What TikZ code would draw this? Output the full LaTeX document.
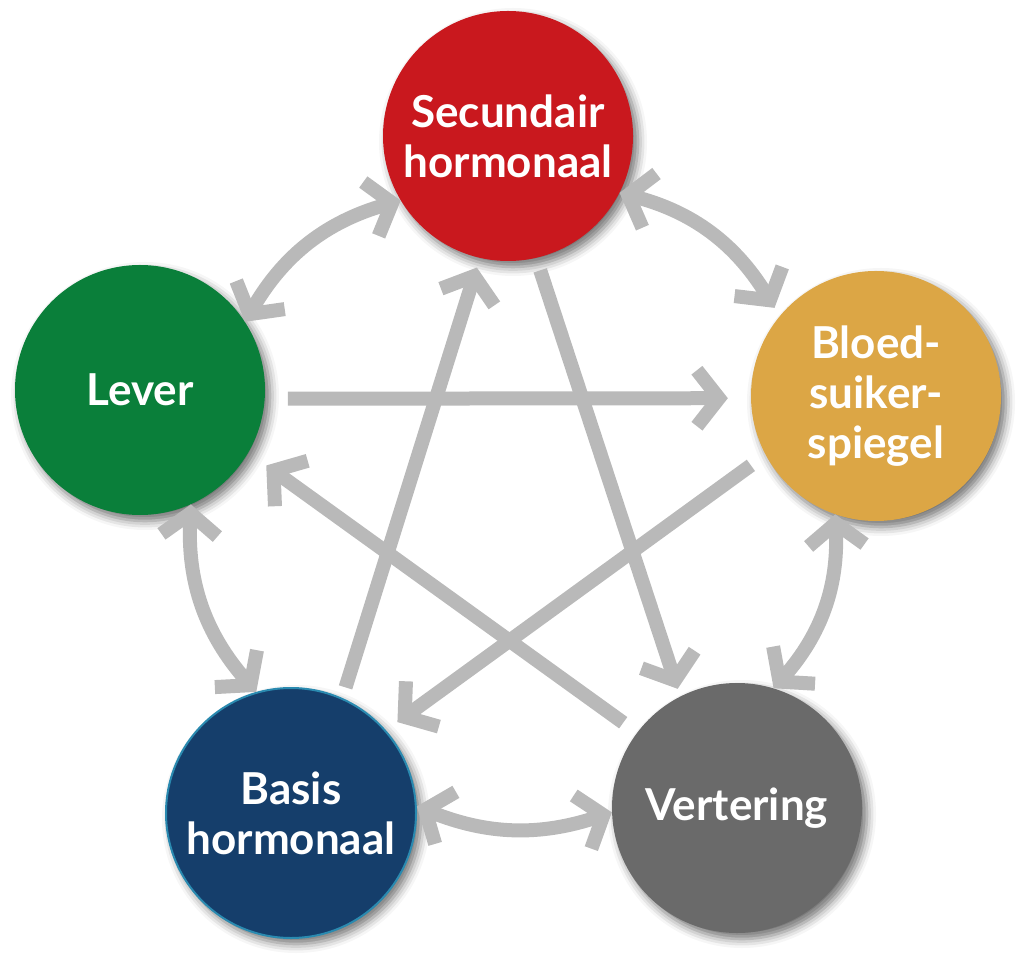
\documentclass[tikz,border=0pt]{standalone}
\usepackage{fontspec}
\setmainfont{Lato}
\usetikzlibrary{arrows.meta,shadows.blur}
\definecolor{rood}{HTML}{C9181E}
\definecolor{groen}{HTML}{0A7F3A}
\definecolor{goud}{HTML}{DCA645}
\definecolor{blauw}{HTML}{153E6B}
\definecolor{blauwrand}{HTML}{2A8AB0}
\definecolor{donkergrijs}{HTML}{6A6A6A}
\definecolor{pijlgrijs}{HTML}{B9B9B9}
\tikzset{
  bol/.style={circle,minimum size=250pt,inner sep=0pt,text=white,align=center,
    font=\bfseries\fontsize{44}{50}\selectfont,
    blur shadow={shadow xshift=5pt,shadow yshift=-6pt,shadow blur radius=9pt,shadow opacity=55}},
  punt/.style={Straight Barb[length=22pt,width=56pt]},
  pijl/.style={draw=pijlgrijs,line width=14pt,-{Straight Barb[length=22pt,width=56pt]}},
  dubbel/.style={draw=pijlgrijs,line width=14pt,{Straight Barb[length=22pt,width=56pt]}-{Straight Barb[length=22pt,width=56pt]}}
}
\begin{document}
\begin{tikzpicture}[x=1pt,y=1pt]
\useasboundingbox (0,0) rectangle (1024,954);
%de vijf cirkels
\node[bol,fill=rood] (secundair) at (508,818) {Secundair\\hormonaal};
\node[bol,fill=groen] (lever) at (140,564) {Lever};
\node[bol,fill=goud] (bloed) at (876,558) {Bloed-\\suiker-\\spiegel};
\node[bol,fill=blauw,draw=blauwrand,line width=2pt] (basis) at (291,141) {Basis\\hormonaal};
\node[bol,fill=donkergrijs] (vertering) at (737,146) {Vertering};
%gebogen pijlen langs de buitenkant
\draw[dubbel] (secundair.211) to[bend right=22] (lever.33);
\draw[dubbel] (secundair.333) to[bend left=22] ([shift={(-7,6)}]bloed.139);
\draw[dubbel] (bloed.251) to[bend left=22] (vertering.73);
\draw[dubbel] (basis.3) to[bend right=20] (vertering.182);
\draw[dubbel] (lever.294) to[bend right=22] (basis.106);
%de ster in het midden
\draw[pijl,shorten <=23pt,shorten >=23pt] (lever.-4) -- (bloed.181.4);
\draw[pijl,shorten <=11pt,shorten >=10pt] (basis.66.6) -- (secundair.257.6);
\draw[pijl,shorten <=13pt,shorten >=8pt] (secundair.283.4) -- (vertering.117.7);
\draw[pijl,shorten <=18pt,shorten >=14pt] (bloed.208.7) -- (basis.41.8);
\draw[pijl,shorten <=17pt,shorten >=22pt] (vertering.143.3) -- (lever.330.3);
\end{tikzpicture}
\end{document}
